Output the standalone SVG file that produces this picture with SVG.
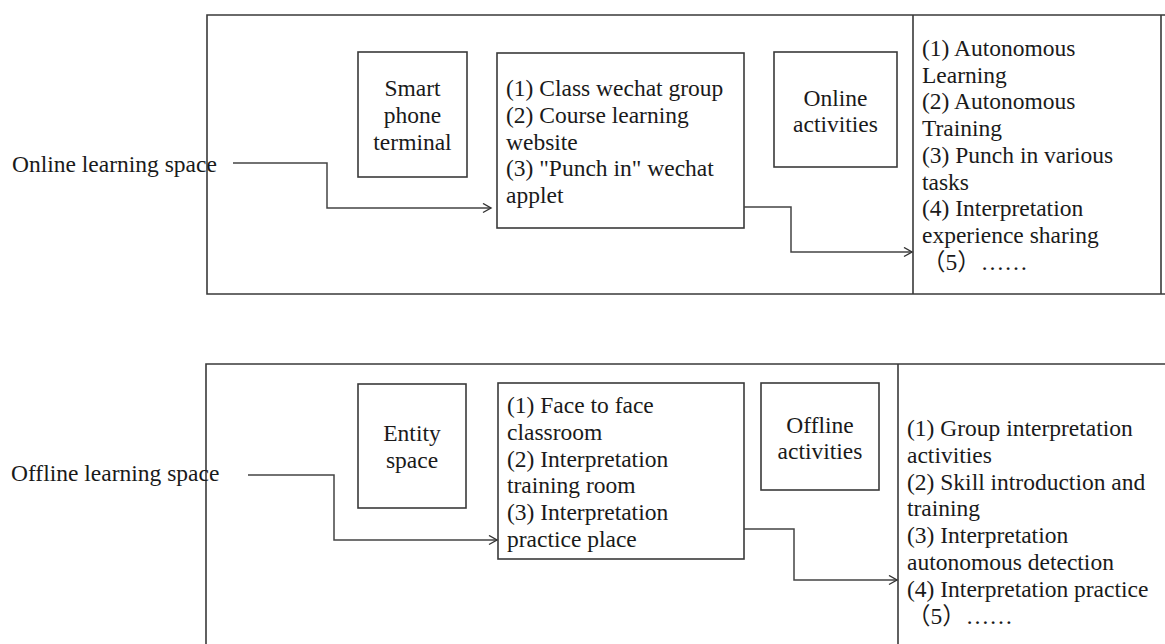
<svg xmlns="http://www.w3.org/2000/svg" width="1165" height="644" viewBox="0 0 1165 644">
<defs>
<marker id="arr" markerUnits="userSpaceOnUse" markerWidth="12" markerHeight="12" refX="9" refY="5" orient="auto">
<path d="M1,0.5 L9,5 L1,9.5" fill="none" stroke="#333" stroke-width="1.4"/>
</marker>
<style>
.t{font-family:"Liberation Serif","Times New Roman",serif;font-size:23.5px;fill:#1a1a1a}
.c{text-anchor:middle}
.f{font-family:"Liberation Serif","Noto Sans CJK SC",serif}
.b{fill:#fff;stroke:#3a3a3a;stroke-width:1.6}
.l{fill:none;stroke:#3a3a3a;stroke-width:1.6}
.k{fill:none;stroke:#444;stroke-width:1.5;marker-end:url(#arr)}
</style>
</defs>
<rect width="1165" height="644" fill="#fff"/>

<g id="online-space">
<path class="l" d="M1165,15 H207 V294 H1165 M913,15 V294 M1161,15 V294"/>
<text class="t" x="12" y="172">Online learning space</text>
</g>

<g id="smart-phone">
<rect class="b" x="358" y="52" width="109" height="125"/>
<text class="t c" x="412.5" y="96">Smart</text>
<text class="t c" x="412.5" y="123">phone</text>
<text class="t c" x="412.5" y="150">terminal</text>
</g>

<g id="online-platforms">
<rect class="b" x="497" y="53" width="247" height="175"/>
<text class="t" x="506" y="96">(1) Class wechat group</text>
<text class="t" x="506" y="123">(2) Course learning</text>
<text class="t" x="506" y="150">website</text>
<text class="t" x="506" y="176">(3) "Punch in" wechat</text>
<text class="t" x="506" y="203">applet</text>
</g>

<g id="online-activities">
<rect class="b" x="774" y="52" width="123" height="115"/>
<text class="t c" x="835.5" y="106">Online</text>
<text class="t c" x="835.5" y="132">activities</text>
</g>

<g id="online-list">
<text class="t" x="922" y="56">(1) Autonomous</text>
<text class="t" x="922" y="83">Learning</text>
<text class="t" x="922" y="109">(2) Autonomous</text>
<text class="t" x="922" y="136">Training</text>
<text class="t" x="922" y="163">(3) Punch in various</text>
<text class="t" x="922" y="190">tasks</text>
<text class="t" x="922" y="216">(4) Interpretation</text>
<text class="t" x="922" y="243">experience sharing</text>
<text class="t f" x="922" y="270">（5）……</text>
</g>

<g id="offline-space">
<path class="l" d="M1165,364 H206 V644 M898,364 V644"/>
<text class="t" x="11" y="481">Offline learning space</text>
</g>

<g id="entity-space">
<rect class="b" x="358" y="384" width="108" height="124"/>
<text class="t c" x="412" y="441">Entity</text>
<text class="t c" x="412" y="468">space</text>
</g>

<g id="offline-places">
<rect class="b" x="498" y="383" width="246" height="176"/>
<text class="t" x="507" y="413">(1) Face to face</text>
<text class="t" x="507" y="440">classroom</text>
<text class="t" x="507" y="467">(2) Interpretation</text>
<text class="t" x="507" y="493">training room</text>
<text class="t" x="507" y="520">(3) Interpretation</text>
<text class="t" x="507" y="547">practice place</text>
</g>

<g id="offline-activities">
<rect class="b" x="761" y="383" width="118" height="107"/>
<text class="t c" x="820" y="433">Offline</text>
<text class="t c" x="820" y="459">activities</text>
</g>

<g id="offline-list">
<text class="t" x="907" y="436">(1) Group interpretation</text>
<text class="t" x="907" y="463">activities</text>
<text class="t" x="907" y="490">(2) Skill introduction and</text>
<text class="t" x="907" y="516">training</text>
<text class="t" x="907" y="543">(3) Interpretation</text>
<text class="t" x="907" y="570">autonomous detection</text>
<text class="t" x="907" y="597">(4) Interpretation practice</text>
<text class="t f" x="907" y="624">（5）……</text>
</g>

<g id="connectors">
<path class="k" d="M233,163 H327 V208 H491"/>
<path class="k" d="M744,207 H791 V252 H912"/>
<path class="k" d="M248,475 H334 V540 H497"/>
<path class="k" d="M744,529 H794 V580 H897"/>
</g>
</svg>
